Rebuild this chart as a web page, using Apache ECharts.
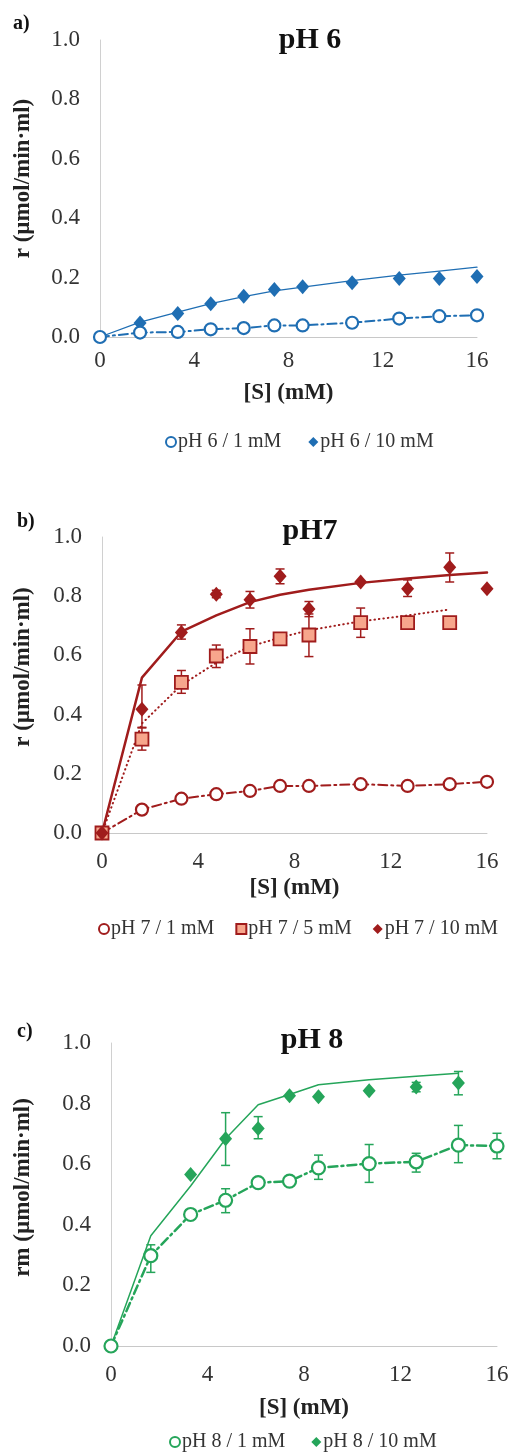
<!DOCTYPE html>
<html>
<head>
<meta charset="utf-8">
<script src="https://cdn.jsdelivr.net/npm/echarts@6/dist/echarts.min.js"></script>
<style>
  html, body { margin: 0; padding: 0; background: #fff; }
  #chart { width: 514px; height: 1454px; }
</style>
</head>
<body>
<div id="chart"></div>
<script>
// ---- data ----
// panel a) pH 6
const xA = [0, 1.7, 3.3, 4.7, 6.1, 7.4, 8.6, 10.7, 12.7, 14.4, 16];
const a1mM = [0, 0.015, 0.017, 0.026, 0.030, 0.039, 0.039, 0.048, 0.062, 0.070, 0.073];
const a10mM = [null, 0.047, 0.079, 0.112, 0.137, 0.160, 0.169, 0.183, 0.197, 0.197, 0.204];
const a10fit = [0, 0.05, 0.084, 0.112, 0.136, 0.155, 0.168, 0.19, 0.208, 0.222, 0.235];

// panel b) pH 7
const xB = [0, 1.66, 3.3, 4.75, 6.15, 7.4, 8.6, 10.75, 12.7, 14.45, 16];
const b1mM = [0, 0.079, 0.116, 0.131, 0.142, 0.159, 0.159, 0.165, 0.159, 0.165, 0.173];
const b5mM = [0, 0.317, 0.509, 0.598, 0.630, 0.656, 0.669, 0.711, 0.711, 0.711];
const b5fit = [0, 0.37, 0.50, 0.575, 0.63, 0.66, 0.685, 0.715, 0.735, 0.755];
const b10mM = [0, 0.418, 0.677, 0.807, 0.788, 0.867, 0.757, 0.848, 0.825, 0.898, 0.825];
const b10fit = [0, 0.525, 0.68, 0.735, 0.78, 0.805, 0.822, 0.845, 0.86, 0.872, 0.88];
// error bars: [x, low, high]
const b5Err = [[1.66, 0.28, 0.357], [3.3, 0.472, 0.549], [4.75, 0.559, 0.635], [6.15, 0.571, 0.69],
  [8.6, 0.596, 0.74], [10.75, 0.661, 0.76], [12.7, 0.70, 0.72]];
const b10Err = [[1.66, 0.355, 0.50], [3.3, 0.655, 0.703], [4.75, 0.795, 0.82], [6.15, 0.76, 0.816],
  [7.4, 0.842, 0.892], [8.6, 0.731, 0.782], [12.7, 0.799, 0.855], [14.45, 0.848, 0.946]];

// panel c) pH 8
const xC = [0, 1.65, 3.3, 4.75, 6.1, 7.4, 8.6, 10.7, 12.65, 14.4, 16];
const c1mM = [0, 0.298, 0.434, 0.481, 0.539, 0.544, 0.588, 0.602, 0.608, 0.663, 0.66];
const c10mM = [null, null, 0.566, 0.684, 0.718, 0.826, 0.823, 0.842, 0.855, 0.868];
const c10fit = [0, 0.364, 0.528, 0.684, 0.796, 0.83, 0.862, 0.879, 0.89, 0.90];
const c1Err = [[1.65, 0.243, 0.334], [4.75, 0.44, 0.519], [8.6, 0.55, 0.63], [10.7, 0.54, 0.665],
  [12.65, 0.574, 0.636], [14.4, 0.605, 0.728], [16, 0.618, 0.702]];
const c10Err = [[4.75, 0.596, 0.77], [6.1, 0.684, 0.757], [12.65, 0.839, 0.87], [14.4, 0.829, 0.906]];

const xTicks = [0, 4, 8, 12, 16];
const yTicks = [0, 0.2, 0.4, 0.6, 0.8, 1.0];

const FONT = '"Liberation Serif", "Times New Roman", serif';
const BLUE = '#1f6eb3';
const RED = '#a01c1c';
const SALMON = '#f7a68c';
const GREEN = '#25a55a';
const DASHDOT = [9, 4, 2, 4];

const pairs = (xs, ys) => ys.map((y, i) => (y == null ? null : [xs[i], y])).filter(Boolean);

function xAxis(gi, margin, gap) {
  return {
    type: 'value', gridIndex: gi, min: xTicks[0], max: xTicks[xTicks.length - 1], interval: 4,
    name: '[S] (mM)', nameLocation: 'middle', nameGap: gap,
    nameTextStyle: { fontFamily: FONT, fontWeight: 'bold', fontSize: 23, color: '#222' },
    axisLine: { lineStyle: { color: '#c8c8c8', width: 1 } },
    axisTick: { show: false }, splitLine: { show: false },
    axisLabel: { fontFamily: FONT, fontSize: 23, color: '#333', margin }
  };
}

// shift moves the rotated title up along the axis (px)
function yAxis(gi, name, gap, shift) {
  return {
    type: 'value', gridIndex: gi, min: yTicks[0], max: yTicks[yTicks.length - 1], interval: 0.2,
    name, nameLocation: 'middle', nameGap: gap,
    nameTextStyle: { fontFamily: FONT, fontWeight: 'bold', fontSize: 23, color: '#222', padding: [0, 0, 0, shift * 2] },
    axisLine: { show: true, lineStyle: { color: '#d0d0d0', width: 1 } },
    axisTick: { show: false }, splitLine: { show: false },
    axisLabel: { fontFamily: FONT, fontSize: 23, color: '#333', margin: 20, formatter: (v) => v.toFixed(1) }
  };
}

function errBars(gi, data, color) {
  return {
    type: 'custom', xAxisIndex: gi, yAxisIndex: gi, z: 1, silent: true,
    data, encode: { x: 0, y: [1, 2] },
    renderItem(params, api) {
      const top = api.coord([api.value(0), api.value(2)]);
      const bot = api.coord([api.value(0), api.value(1)]);
      const w = 4.5;
      const st = { stroke: color, lineWidth: 1.5 };
      return {
        type: 'group',
        children: [
          { type: 'line', shape: { x1: top[0], y1: top[1], x2: bot[0], y2: bot[1] }, style: st },
          { type: 'line', shape: { x1: top[0] - w, y1: top[1], x2: top[0] + w, y2: top[1] }, style: st },
          { type: 'line', shape: { x1: bot[0] - w, y1: bot[1], x2: bot[0] + w, y2: bot[1] }, style: st }
        ]
      };
    }
  };
}

function fitLine(gi, data, color, width, type) {
  return {
    type: 'line', xAxisIndex: gi, yAxisIndex: gi, data, symbol: 'none', clip: false, z: 2,
    lineStyle: { color, width, type, cap: 'round' }, silent: true
  };
}

function marks(gi, name, data, symbol, size, fill, stroke, bw) {
  return {
    type: 'scatter', name, xAxisIndex: gi, yAxisIndex: gi, data, symbol, symbolSize: size, clip: false, z: 3,
    itemStyle: { color: fill, borderColor: stroke, borderWidth: bw, opacity: 1 }
  };
}

function legend(names, left, top, gap) {
  return {
    data: names, left, top, itemGap: gap, itemWidth: 10, itemHeight: 10,
    textStyle: { fontFamily: FONT, fontSize: 20, color: '#333', padding: [0, 0, 0, -3] }
  };
}

function label(text, x, y, size, align) {
  return {
    type: 'text', x, y,
    style: { text, fontFamily: FONT, fontWeight: 'bold', fontSize: size, fill: '#111', align, verticalAlign: 'middle' }
  };
}

const chart = echarts.init(document.getElementById('chart'));
chart.setOption({
  animation: false,
  backgroundColor: '#fff',
  grid: [
    { left: 100, top: 40, width: 377, height: 297 },
    { left: 102, top: 537, width: 385, height: 296 },
    { left: 111, top: 1043, width: 386, height: 303 }
  ],
  xAxis: [xAxis(0, 12, 45), xAxis(1, 17, 44), xAxis(2, 17, 51)],
  yAxis: [
    yAxis(0, 'r (µmol/min·ml)', 65, 10),
    yAxis(1, 'r (µmol/min·ml)', 67, 18),
    yAxis(2, 'rm (µmol/min·ml)', 76, 7)
  ],
  legend: [
    legend(['pH 6 / 1 mM', 'pH 6 / 10 mM'], 160, 427, 27),
    legend(['pH 7 / 1 mM', 'pH 7 / 5 mM', 'pH 7 / 10 mM'], 93, 914, 21),
    legend(['pH 8 / 1 mM', 'pH 8 / 10 mM'], 164, 1427, 26)
  ],
  graphic: [
    label('a)', 13, 24, 20, 'left'),
    label('pH 6', 310, 40, 30, 'center'),
    label('b)', 17, 522, 20, 'left'),
    label('pH7', 310, 531, 30, 'center'),
    label('c)', 17, 1032, 20, 'left'),
    label('pH 8', 312, 1040, 30, 'center')
  ],
  series: [
    // a) pH 6
    fitLine(0, pairs(xA, a1mM), BLUE, 2, DASHDOT),
    fitLine(0, pairs(xA, a10fit), BLUE, 1.3, 'solid'),
    marks(0, 'pH 6 / 10 mM', pairs(xA, a10mM), 'diamond', [13, 15], BLUE, BLUE, 0),
    marks(0, 'pH 6 / 1 mM', pairs(xA, a1mM), 'circle', 12, '#fff', BLUE, 2.2),

    // b) pH 7
    errBars(1, b5Err, RED),
    errBars(1, b10Err, RED),
    fitLine(1, pairs(xB, b1mM), RED, 2, DASHDOT),
    fitLine(1, pairs(xB, b5fit), RED, 2, [0.5, 4]),
    fitLine(1, pairs(xB, b10fit), RED, 2.5, 'solid'),
    marks(1, 'pH 7 / 1 mM', pairs(xB, b1mM), 'circle', 12, '#fff', RED, 2.2),
    marks(1, 'pH 7 / 5 mM', pairs(xB, b5mM), 'rect', 13, SALMON, RED, 1.8),
    marks(1, 'pH 7 / 10 mM', pairs(xB, b10mM), 'diamond', [13, 15], RED, RED, 0),

    // c) pH 8
    errBars(2, c1Err, GREEN),
    errBars(2, c10Err, GREEN),
    fitLine(2, pairs(xC, c1mM), GREEN, 2.5, DASHDOT),
    fitLine(2, pairs(xC, c10fit), GREEN, 1.5, 'solid'),
    marks(2, 'pH 8 / 1 mM', pairs(xC, c1mM), 'circle', 13, '#fff', GREEN, 2.2),
    marks(2, 'pH 8 / 10 mM', pairs(xC, c10mM), 'diamond', [13, 15], GREEN, GREEN, 0)
  ]
});
</script>
</body>
</html>
